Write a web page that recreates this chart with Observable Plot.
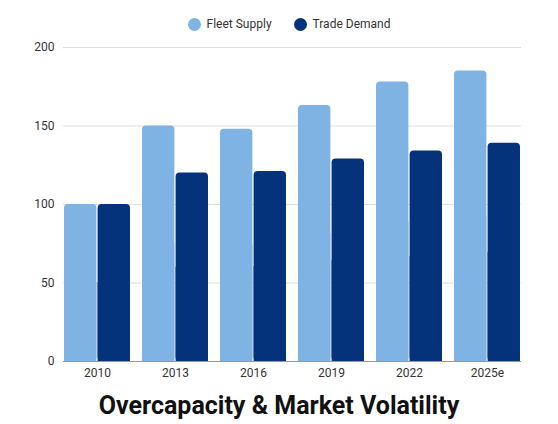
<!DOCTYPE html>
<html>
<head>
<meta charset="utf-8">
<script src="https://cdn.jsdelivr.net/npm/d3@7"></script>
<script src="https://cdn.jsdelivr.net/npm/@observablehq/plot@0.6"></script>
<style>
  body { margin: 0; background: #fff; font-family: Roboto, sans-serif; }
  #legend { height: 38px; padding-top: 10px; display: flex; align-items: center; justify-content: center; gap: 22px; font-size: 12px; color: #333; padding-left: 20px; box-sizing: border-box; }
  #legend span.item { display: flex; align-items: center; gap: 6px; }
  #legend span.dot { width: 13px; height: 13px; border-radius: 50%; display: inline-block; }
  #title { text-align: center; font-weight: 700; font-size: 25px; color: #111; margin-top: 6px; }
</style>
</head>
<body>
<div id="legend"></div>
<div id="chart"></div>
<div id="title">Overcapacity &amp; Market Volatility</div>
<script>
var years = ["2010", "2013", "2016", "2019", "2022", "2025e"];
var series = ["Fleet Supply", "Trade Demand"];
var fleetSupply = [100, 150, 148, 163, 178, 185];
var tradeDemand = [100, 120, 121, 129, 134, 139];
var colors = ["#7eb3e4", "#05337b"];
var yTicks = [0, 50, 100, 150, 200];

var fleet = years.map((y, i) => ({ year: y, series: series[0], value: fleetSupply[i] }));
var demand = years.map((y, i) => ({ year: y, series: series[1], value: tradeDemand[i] }));

d3.select("#legend")
  .selectAll("span.item")
  .data(series)
  .join("span")
  .attr("class", "item")
  .html((d, i) => `<span class="dot" style="background:${colors[i]}"></span>${d}`);

// each year band holds two half-width bars; square lower half, rounded top
var half = 33.6;
function bars(rows, inset) {
  return [
    Plot.barY(rows, { x: "year", y: (d) => d.value / 2, fill: "series", ...inset }),
    Plot.barY(rows, { x: "year", y: "value", fill: "series", rx: 4, ry: 4, ...inset }),
  ];
}

var plot = Plot.plot({
  width: 558,
  height: 347,
  marginTop: 9,
  marginLeft: 63,
  marginRight: 37,
  marginBottom: 24,
  style: { fontFamily: "Roboto, sans-serif", fontSize: "12px", color: "#333" },
  x: { domain: years, paddingInner: 0.16, paddingOuter: 0, label: null, tickSize: 0, tickPadding: 7 },
  y: { domain: [0, 200], ticks: yTicks, tickSize: 0, tickPadding: 9, label: null },
  color: { domain: series, range: colors },
  marks: [
    Plot.ruleY(yTicks.slice(1), { stroke: "#ddd" }),
    bars(fleet, { insetRight: half }),
    bars(demand, { insetLeft: half }),
    Plot.ruleY([0], { stroke: "#999" }),
  ],
});
document.getElementById("chart").append(plot);
</script>
</body>
</html>
